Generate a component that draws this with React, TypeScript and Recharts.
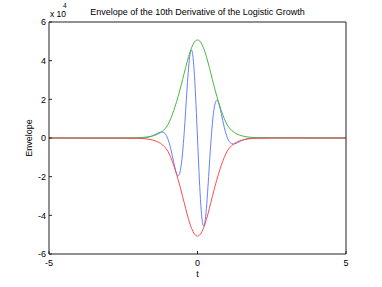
import { LineChart, Line, XAxis, YAxis } from "recharts";

// envelope samples (x 10^4)
const envT = [-5, -3, -2.5, -2, -1.8, -1.6, -1.5, -1.4, -1.3, -1.2, -1.1, -1, -0.9, -0.8, -0.7, -0.6, -0.5, -0.4, -0.3, -0.2, -0.1, 0, 0.1, 0.2, 0.3, 0.4, 0.5, 0.6, 0.7, 0.8, 0.9, 1, 1.1, 1.2, 1.3, 1.4, 1.5, 1.6, 1.8, 2, 2.5, 3, 5];
const envUpper = [0, 0, 0.004, 0.017, 0.035, 0.075, 0.11, 0.16, 0.23, 0.33, 0.47, 0.68, 1.01, 1.42, 1.9, 2.44, 3.03, 3.64, 4.21, 4.67, 4.97, 5.07, 4.97, 4.67, 4.21, 3.64, 3.03, 2.44, 1.9, 1.42, 1.01, 0.68, 0.47, 0.33, 0.23, 0.16, 0.11, 0.075, 0.035, 0.017, 0.004, 0, 0];
const envLower = [0, 0, -0.004, -0.017, -0.035, -0.075, -0.11, -0.16, -0.23, -0.33, -0.47, -0.68, -1.01, -1.42, -1.9, -2.44, -3.03, -3.64, -4.21, -4.67, -4.97, -5.07, -4.97, -4.67, -4.21, -3.64, -3.03, -2.44, -1.9, -1.42, -1.01, -0.68, -0.47, -0.33, -0.23, -0.16, -0.11, -0.075, -0.035, -0.017, -0.004, 0, 0];

// 10th derivative samples (x 10^4)
const waveT = [-5, -2, -1.8, -1.7, -1.6, -1.5, -1.45, -1.4, -1.35, -1.3, -1.25, -1.2, -1.15, -1.1, -1.05, -1, -0.95, -0.9, -0.85, -0.8, -0.75, -0.7, -0.65, -0.6, -0.55, -0.5, -0.45, -0.4, -0.35, -0.3, -0.25, -0.2, -0.15, -0.1, -0.05, 0, 0.05, 0.1, 0.15, 0.2, 0.25, 0.3, 0.35, 0.4, 0.45, 0.5, 0.55, 0.6, 0.65, 0.7, 0.75, 0.8, 0.85, 0.9, 0.95, 1, 1.05, 1.1, 1.15, 1.2, 1.25, 1.3, 1.35, 1.4, 1.45, 1.5, 1.6, 1.7, 1.8, 2, 5];
const waveV = [0, -0.013, 0.002, 0.024, 0.064, 0.123, 0.16, 0.201, 0.241, 0.279, 0.305, 0.314, 0.295, 0.238, 0.131, -0.037, -0.269, -0.563, -0.905, -1.267, -1.604, -1.856, -1.954, -1.829, -1.428, -0.73, 0.237, 1.388, 2.581, 3.631, 4.343, 4.552, 4.162, 3.181, 1.723, 0, -1.723, -3.181, -4.162, -4.552, -4.343, -3.631, -2.581, -1.388, -0.237, 0.73, 1.428, 1.829, 1.954, 1.856, 1.604, 1.267, 0.905, 0.563, 0.269, 0.037, -0.131, -0.238, -0.295, -0.314, -0.305, -0.279, -0.241, -0.201, -0.16, -0.123, -0.064, -0.024, -0.002, 0.013, 0];

const xTicks = [-5, 0, 5];
const yTicks = [-6, -4, -2, 0, 2, 4, 6];

const envData = envT.map((t, i) => ({ t, upper: envUpper[i], lower: envLower[i] }));
const waveData = waveT.map((t, i) => ({ t, v: waveV[i] }));

const font = '"Liberation Sans", Arial, sans-serif';
const tickStyle = { fontSize: 9, fill: "#000", fontFamily: font };

export default function App() {
  return (
    <div style={{ position: "absolute", left: 0, top: 0, width: 382, height: 287, background: "#fff" }}>
      <LineChart width={382} height={287} margin={{ top: 21, right: 35, bottom: 13, left: 9 }}>
        <XAxis
          dataKey="t"
          type="number"
          domain={[-5, 5]}
          ticks={xTicks}
          height={20}
          stroke="#222"
          tickSize={-3}
          tickMargin={9}
          tick={tickStyle}
          allowDataOverflow
        />
        <XAxis
          xAxisId="top"
          orientation="top"
          dataKey="t"
          type="number"
          domain={[-5, 5]}
          ticks={xTicks}
          height={1}
          stroke="#222"
          tickSize={-3}
          tick={false}
          allowDataOverflow
        />
        <YAxis
          type="number"
          domain={[-6, 6]}
          ticks={yTicks}
          width={40}
          stroke="#222"
          tickSize={-3}
          tickMargin={6}
          tick={tickStyle}
          allowDataOverflow
        />
        <YAxis
          yAxisId="right"
          orientation="right"
          type="number"
          domain={[-6, 6]}
          ticks={yTicks}
          width={1}
          stroke="#222"
          tickSize={-3}
          tick={false}
          allowDataOverflow
        />
        <Line data={waveData} dataKey="v" type="monotone" stroke="#6680ff" strokeWidth={1} dot={false} isAnimationActive={false} />
        <Line data={envData} dataKey="upper" type="monotone" stroke="#4cb83c" strokeWidth={1} dot={false} isAnimationActive={false} />
        <Line data={envData} dataKey="lower" type="monotone" stroke="#ff4d4d" strokeWidth={1} dot={false} isAnimationActive={false} />
      </LineChart>
      <svg width={382} height={287} style={{ position: "absolute", left: 0, top: 0, pointerEvents: "none" }} fontFamily={font}>
        <text x={197.5} y={15} textAnchor="middle" fontSize={9}>
          Envelope of the 10th Derivative of the Logistic Growth
        </text>
        <text x={50} y={17.3} fontSize={8.5}>x 10</text>
        <text x={63} y={8} fontSize={6.5}>4</text>
        <text x={197.5} y={277} textAnchor="middle" fontSize={9}>t</text>
        <text transform="translate(31.5,138) rotate(-90)" textAnchor="middle" fontSize={9}>Envelope</text>
      </svg>
    </div>
  );
}
